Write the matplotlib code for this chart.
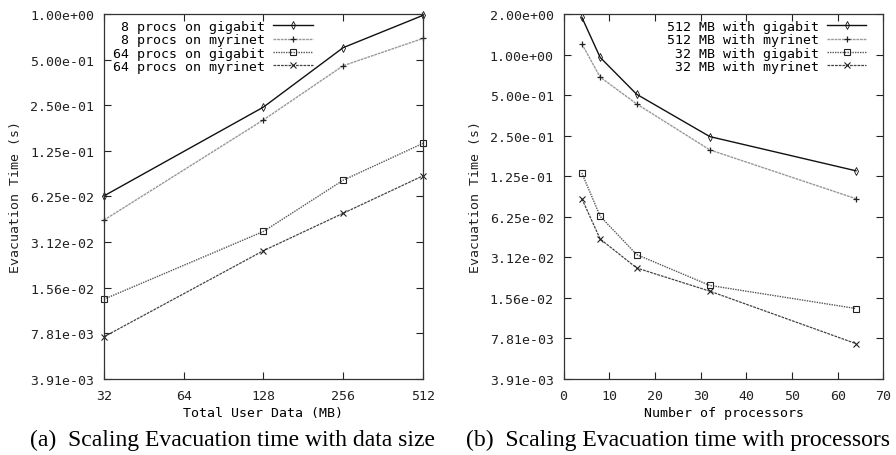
import matplotlib
matplotlib.use("Agg")
import matplotlib.pyplot as plt
from matplotlib.ticker import FixedLocator, FuncFormatter, NullLocator

# (a) evacuation time vs total user data (MB)
data_mb = [32, 128, 256, 512]
p8_gigabit = [0.063, 0.243, 0.60, 0.98]
p8_myrinet = [0.0436, 0.20, 0.456, 0.69]
p64_gigabit = [0.0131, 0.0367, 0.080, 0.140]
p64_myrinet = [0.0074, 0.0274, 0.0484, 0.0855]

# (b) evacuation time vs number of processors
procs = [4, 8, 16, 32, 64]
mb512_gigabit = [1.89, 0.953, 0.507, 0.246, 0.137]
mb512_myrinet = [1.20, 0.68, 0.43, 0.196, 0.085]
mb32_gigabit = [0.132, 0.063, 0.0327, 0.0193, 0.0130]
mb32_myrinet = [0.085, 0.0427, 0.026, 0.0175, 0.00713]

yticks_a = [2.0 ** -k for k in range(0, 9)]
yticks_b = [2.0 ** -k for k in range(-1, 9)]
xticks_a = [32, 64, 128, 256, 512]
xticks_b = [0, 10, 20, 30, 40, 50, 60, 70]

mono = "DejaVu Sans Mono"
fs = 9.5

fig = plt.figure(figsize=(8.96, 4.56), dpi=100)
ax1 = fig.add_axes([0.116, 0.167, 0.356, 0.80])
ax2 = fig.add_axes([0.629, 0.167, 0.357, 0.80])

styles = [
    dict(color="#111111", lw=1.0, ls="-", marker="d", ms=4, mfc="none", mew=0.6),
    dict(color="#999999", lw=1.0, ls=(0, (2, 0.6)), marker="+", ms=5, mew=0.9, mec="#222222"),
    dict(color="#555555", lw=1.0, ls=(0, (1, 0.8)), marker="s", ms=4, mfc="none", mew=0.8, mec="#222222"),
    dict(color="#444444", lw=0.9, ls=(0, (2.2, 0.8)), marker="x", ms=4, mew=0.8, mec="#222222"),
]

series_a = [(p8_gigabit, "8 procs on gigabit"), (p8_myrinet, "8 procs on myrinet"),
            (p64_gigabit, "64 procs on gigabit"), (p64_myrinet, "64 procs on myrinet")]
for (vals, lab), st in zip(series_a, styles):
    ax1.plot(data_mb, vals, label=lab, clip_on=False, **st)

series_b = [(mb512_gigabit, "512 MB with gigabit"), (mb512_myrinet, "512 MB with myrinet"),
            (mb32_gigabit, "32 MB with gigabit"), (mb32_myrinet, "32 MB with myrinet")]
for (vals, lab), st in zip(series_b, styles):
    ax2.plot(procs, vals, label=lab, **st)

fmt = FuncFormatter(lambda v, p: "%.2e" % v)

ax1.set_xscale("log", base=2)
ax1.set_yscale("log", base=2)
ax1.set_xlim(32, 512)
ax1.set_ylim(2.0 ** -8, 1.0)
ax1.xaxis.set_major_locator(FixedLocator(xticks_a))
ax1.xaxis.set_major_formatter(FuncFormatter(lambda v, p: "%d" % v))
ax1.yaxis.set_major_locator(FixedLocator(yticks_a))
ax1.yaxis.set_major_formatter(fmt)
ax1.set_xlabel("Total User Data (MB)", fontfamily=mono, fontsize=fs, labelpad=3)

ax2.set_yscale("log", base=2)
ax2.set_xlim(0, 70)
ax2.set_ylim(2.0 ** -8, 2.0)
ax2.xaxis.set_major_locator(FixedLocator(xticks_b))
ax2.yaxis.set_major_locator(FixedLocator(yticks_b))
ax2.yaxis.set_major_formatter(fmt)
ax2.set_xlabel("Number of processors", fontfamily=mono, fontsize=fs, labelpad=3)

for ax in (ax1, ax2):
    ax.xaxis.set_minor_locator(NullLocator())
    ax.yaxis.set_minor_locator(NullLocator())
    ax.tick_params(direction="in", top=True, right=True, length=5, width=0.8,
                   labelsize=fs, pad=7, colors="#222222")
    for lbl in ax.get_xticklabels() + ax.get_yticklabels():
        lbl.set_fontfamily(mono)
        lbl.set_color("#222222")
    for s in ax.spines.values():
        s.set_linewidth(0.9)
        s.set_color("#333333")
    ax.set_ylabel("Evacuation Time (s)", fontfamily=mono, fontsize=fs, labelpad=6,
                  color="#222222")

leg1 = ax1.legend(loc="upper left", frameon=False, markerfirst=False, handlelength=3,
                  prop=dict(family=mono, size=fs), labelspacing=0.02,
                  borderaxespad=0.0, borderpad=0.45, handletextpad=0.6,
                  bbox_to_anchor=(0.01, 1.0))
for t in leg1.get_texts():
    t.set_ha("right")
leg2 = ax2.legend(loc="upper right", frameon=False, markerfirst=False, handlelength=3,
                  prop=dict(family=mono, size=fs), labelspacing=0.02,
                  borderaxespad=0.0, borderpad=0.45, handletextpad=0.6,
                  bbox_to_anchor=(0.965, 1.0))
for t in leg2.get_texts():
    t.set_ha("right")

fig.text(0.2595, 0.035, "(a)  Scaling Evacuation time with data size",
         ha="center", va="center", fontfamily="Liberation Serif", fontsize=17)
fig.text(0.757, 0.035, "(b)  Scaling Evacuation time with processors",
         ha="center", va="center", fontfamily="Liberation Serif", fontsize=17)

fig.savefig("out.png", dpi=100)
